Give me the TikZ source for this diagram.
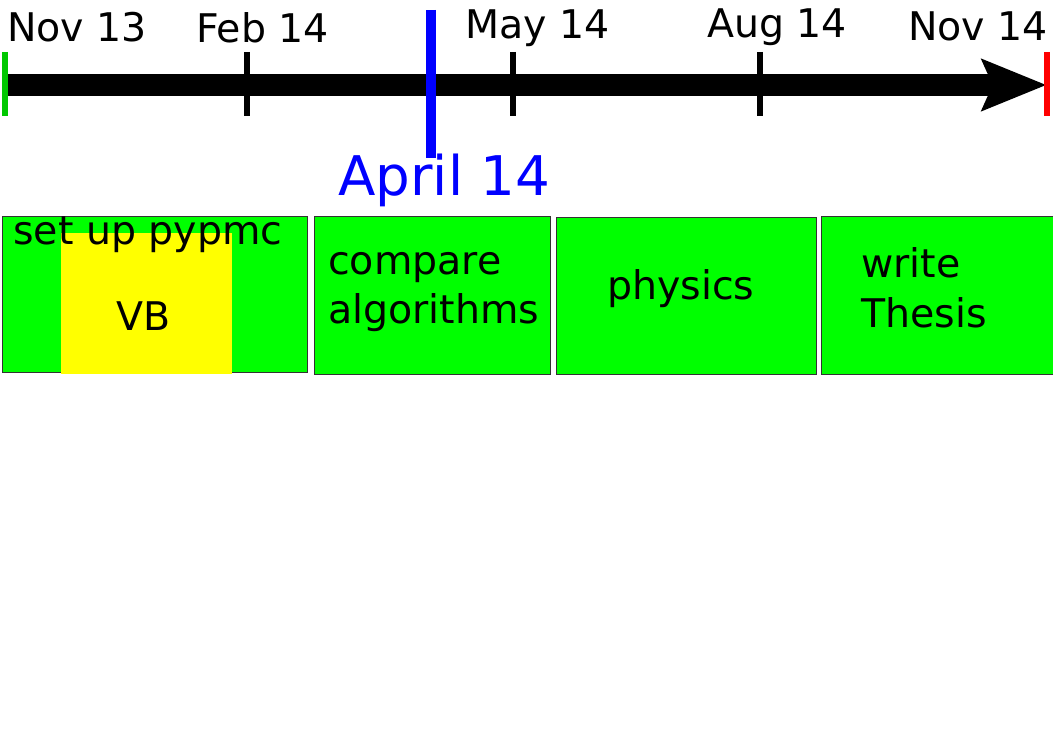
\documentclass[tikz,border=0pt]{standalone}
\usepackage{fontspec}
\setmainfont{DejaVu Sans}
\usetikzlibrary{arrows.meta,positioning}
\definecolor{barGreen}{HTML}{00FF00}
\definecolor{startGreen}{HTML}{00C800}
\definecolor{vbYellow}{HTML}{FFFF00}
\definecolor{nowBlue}{HTML}{0000FF}
\definecolor{endRed}{HTML}{FF0000}

\begin{document}
\begin{tikzpicture}[x=0.75pt, y=-0.75pt,
  datelbl/.style={anchor=base west, inner sep=0pt, font=\fontsize{29.6}{37}\selectfont},
  task/.style={anchor=north west, draw=black!80, fill=barGreen, line width=1pt, inner sep=0pt},
  tasktext/.style={anchor=base west, inner sep=0pt, align=left, font=\fontsize{29.6}{37}\selectfont},
  monthtick/.style={line width=4.5pt},
  axisline/.style={line width=16.5pt, -{Stealth[length=49pt 0, width=40pt 0, inset=9pt 0, line width=0pt 0]}}
]
\useasboundingbox (0,0) rectangle (1053,745);

\coordinate (start) at (5,85);
\coordinate (stop) at (1046,85);
\draw[axisline] (start) -- (stop);

\draw[monthtick, startGreen] (4.5,52) -- (4.5,116);
\draw[monthtick] (247,52) -- (247,116);
\draw[monthtick] (513,52) -- (513,116);
\draw[monthtick] (760,52) -- (760,116);
\draw[monthtick, endRed] (1047,52) -- (1047,116);
\draw[line width=7.5pt, nowBlue] (431,10) -- (431,158);

\node[datelbl] (nov13) at (7,42) {Nov 13};
\node[datelbl] (feb14) at (196,43) {Feb 14};
\node[datelbl] (may14) at (465,39) {May 14};
\node[datelbl] (aug14) at (707,38) {Aug 14};
\node[datelbl] (nov14) at (908,41) {Nov 14};
\node[datelbl, font=\fontsize{41}{50}\selectfont, text=nowBlue] (april14) at (338,196) {April 14};

\node[task, minimum width=228.75pt, minimum height=117pt] (pypmcbox) at (2,216) {};
\node[anchor=north west, fill=vbYellow, inner sep=0pt, minimum width=128.25pt, minimum height=105.75pt] (vbbox) at (61,233) {};
\node[task, minimum width=177pt, minimum height=118.5pt] (comparebox) at (314,216) {};
\node[task, minimum width=195pt, minimum height=117.75pt] (physicsbox) at (556,217) {};
\node[task, minimum width=179pt, minimum height=118.5pt] (thesisbox) at (821,216) {};

\node[tasktext] (pypmc) at (13,245) {set up pypmc};
\node[tasktext] (vb) at (116,330) {VB};
\node[tasktext] (compare) at (328,324) {compare\\algorithms};
\node[tasktext] (physics) at (607,300) {physics};
\node[tasktext] (thesis) at (861,327) {write\\Thesis};
\end{tikzpicture}
\end{document}
